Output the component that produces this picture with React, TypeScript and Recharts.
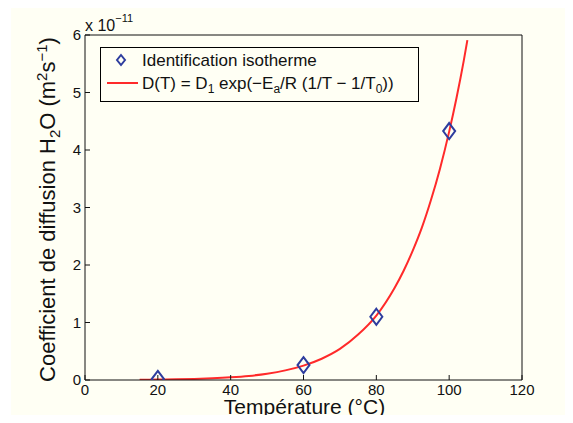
import React from 'react';
import { ComposedChart, Line, Scatter, XAxis, YAxis, Legend } from 'recharts';

// Temperature ticks (°C) and diffusion ticks (x 1e-11 m²/s)
const xTicks = [0, 20, 40, 60, 80, 100, 120];
const yTicks = [0, 1, 2, 3, 4, 5, 6];

// Identification isotherme points
const pointT = [20, 60, 80, 100];
const pointD = [0.02, 0.26, 1.1, 4.33];

// Fitted Arrhenius curve
const curveT = [15, 20, 25, 30, 35, 40, 45, 50, 55, 60, 65, 70, 75, 80, 85, 87.5, 90, 92.5, 95, 97.5, 100, 102, 104, 105];
const curveD = [0.004, 0.007, 0.011, 0.018, 0.029, 0.046, 0.071, 0.11, 0.167, 0.25, 0.37, 0.54, 0.79, 1.12, 1.6, 1.9, 2.25, 2.65, 3.13, 3.68, 4.32, 4.9, 5.55, 5.91];

const pointData = pointT.map((t, i) => ({ t, d: pointD[i] }));
const curveData = curveT.map((t, i) => ({ t, d: curveD[i] }));

const FONT = '"Liberation Sans", Arial, Helvetica, sans-serif';
const CREAM = '#fffff4';
const BLUE = '#2e3d9e';
const RED = '#ff2a2a';

const Diamond = (props: any) => {
  const { cx, cy } = props;
  if (cx == null || cy == null) return null;
  const w = 6, h = 8;
  return (
    <polygon
      points={`${cx},${cy - h} ${cx + w},${cy} ${cx},${cy + h} ${cx - w},${cy}`}
      fill="none"
      stroke={BLUE}
      strokeWidth={2}
    />
  );
};

const LegendBox = () => (
  <svg width={320} height={56} style={{ display: 'block' }}>
    <rect x={0.5} y={0.5} width={318} height={54} fill={CREAM} stroke="#000" strokeWidth={1} />
    <polygon points="21,8 25,13 21,18 17,13" fill="none" stroke={BLUE} strokeWidth={2} />
    <line x1={7} y1={36} x2={38} y2={36} stroke={RED} strokeWidth={2} />
    <text x={42} y={19} fontSize={17} fontFamily={FONT} fill="#111">Identification isotherme</text>
    <text x={42} y={42} fontSize={17} fontFamily={FONT} fill="#111">
      D(T) = D<tspan fontSize={12} dy={4}>1</tspan>
      <tspan dy={-4}> exp(−E</tspan>
      <tspan fontSize={12} dy={4}>a</tspan>
      <tspan dy={-4}>/R (1/T − 1/T</tspan>
      <tspan fontSize={12} dy={4}>0</tspan>
      <tspan dy={-4}>))</tspan>
    </text>
  </svg>
);

const XLabel = (props: any) => {
  const vb = props.viewBox || {};
  return (
    <text x={vb.x + vb.width / 2 + 1} y={vb.y + 34} textAnchor="middle" fontSize={21} fontFamily={FONT} fill="#111">
      Température (°C)
    </text>
  );
};

const YLabel = (props: any) => {
  const vb = props.viewBox || {};
  const x = vb.x + 30;
  const y = vb.y + vb.height / 2 + 2;
  return (
    <text x={x} y={y} transform={`rotate(-90, ${x}, ${y})`} textAnchor="middle" fontSize={22} fontFamily={FONT} fill="#111">
      Coefficient de diffusion H<tspan fontSize={15} dy={5}>2</tspan>
      <tspan dy={-5}>O (m</tspan>
      <tspan fontSize={15} dy={-8}>2</tspan>
      <tspan dy={8}>s</tspan>
      <tspan fontSize={15} dy={-8}>−1</tspan>
      <tspan dy={8}>)</tspan>
    </text>
  );
};

const ExpLabel = (props: any) => {
  const vb = props.viewBox || {};
  return (
    <text x={vb.x} y={vb.y + vb.height - 4} fontSize={16} fontFamily={FONT} fill="#111">
      x 10<tspan fontSize={11} dy={-9}>−11</tspan>
    </text>
  );
};

const tickStyle = { fontSize: 15, fontFamily: FONT, fill: '#111' };

export default function App() {
  return (
    <div style={{ position: 'relative', margin: -8, width: 573, height: 423, background: '#ffffff' }}>
      <div style={{ position: 'absolute', left: 11, top: 3, right: 0, bottom: 0, background: CREAM }} />
      <div style={{ position: 'absolute', left: 0, top: 0 }}>
        <ComposedChart width={573} height={423} margin={{ top: 5, right: 41, bottom: 0, left: 25 }}>
          <XAxis
            xAxisId={0}
            dataKey="t"
            type="number"
            domain={[0, 120]}
            ticks={xTicks}
            allowDataOverflow
            height={43}
            stroke="#111"
            tickSize={-5}
            tickMargin={9}
            tick={tickStyle}
            label={<XLabel />}
          />
          <XAxis
            xAxisId="top"
            orientation="top"
            dataKey="t"
            type="number"
            domain={[0, 120]}
            ticks={xTicks}
            height={30}
            stroke="#111"
            tickSize={-5}
            tick={false}
            label={<ExpLabel />}
          />
          <YAxis
            yAxisId={0}
            type="number"
            domain={[0, 6]}
            ticks={yTicks}
            allowDataOverflow
            width={60}
            stroke="#111"
            tickSize={-5}
            tickMargin={9}
            tick={tickStyle}
            label={<YLabel />}
          />
          <YAxis
            yAxisId="right"
            orientation="right"
            type="number"
            domain={[0, 6]}
            ticks={yTicks}
            width={10}
            stroke="#111"
            tickSize={-5}
            tick={false}
          />
          <Legend
            layout="vertical"
            align="center"
            verticalAlign="middle"
            content={<LegendBox />}
            wrapperStyle={{ position: 'absolute', left: 100, top: 47, width: 320, height: 56 }}
          />
          <Line
            xAxisId={0}
            yAxisId={0}
            data={curveData}
            dataKey="d"
            type="monotone"
            stroke={RED}
            strokeWidth={2}
            dot={false}
            activeDot={false}
            isAnimationActive={false}
          />
          <Scatter
            xAxisId={0}
            yAxisId={0}
            data={pointData}
            dataKey="d"
            shape={<Diamond />}
            isAnimationActive={false}
          />
        </ComposedChart>
      </div>
    </div>
  );
}
